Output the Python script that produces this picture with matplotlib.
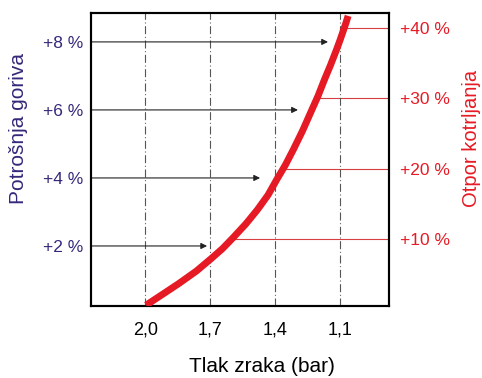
import matplotlib.pyplot as plt
import numpy as np

plt.rcParams['font.family'] = ['Liberation Sans', 'DejaVu Sans']

# tyre pressure (bar) vs extra fuel consumption (%)
pressure = [1.997, 1.915, 1.842, 1.764, 1.698, 1.643, 1.596, 1.536, 1.483, 1.433,
            1.394, 1.353, 1.317, 1.274, 1.235, 1.202, 1.173, 1.144, 1.117, 1.100,
            1.084, 1.073, 1.063]
fuel = [0.26, 0.603, 0.912, 1.265, 1.618, 1.926, 2.235, 2.647, 3.059, 3.500,
        3.941, 4.382, 4.824, 5.382, 5.941, 6.412, 6.882, 7.324, 7.765, 8.059,
        8.353, 8.559, 8.765]

x_ticks = [2.0, 1.7, 1.4, 1.1]
x_labels = ['2,0', '1,7', '1,4', '1,1']

fuel_levels = [2, 4, 6, 8]
fuel_labels = ['+2 %', '+4 %', '+6 %', '+8 %']
arrow_end = [1.715, 1.47, 1.295, 1.156]

rr_levels = [10, 20, 30, 40]
rr_labels = ['+10 %', '+20 %', '+30 %', '+40 %']

blue = '#35287a'
red = '#e61a24'

fig = plt.figure(figsize=(4.82, 3.78), dpi=100)
ax = fig.add_axes([90.5 / 482, 72 / 378, 298.5 / 482, 293 / 378])
ax2 = ax.twinx()

xlim = (2.254, 0.874)
ylim = (0.235, 8.85)
ylim2 = (0.5, 42.06)
ax.set_xlim(xlim)
ax.set_ylim(ylim)
ax2.set_ylim(ylim2)

# dash-dot vertical grid lines
for xt in x_ticks:
    ax.axvline(xt, color='#555555', lw=0.8, linestyle=(0, (7.2, 2.4, 0.9, 2.4)), zorder=1)

# black arrows from the left axis
for f, xe in zip(fuel_levels, arrow_end):
    ax.annotate('', xy=(xe, f), xytext=(xlim[0], f),
                arrowprops=dict(arrowstyle='-|>', color='#222222', lw=0.8,
                                mutation_scale=9, shrinkA=0, shrinkB=0),
                zorder=2)

# red lines from the curve to the right axis
rr = np.array(rr_levels, dtype=float)
f_eq = ylim[0] + (rr - ylim2[0]) / (ylim2[1] - ylim2[0]) * (ylim[1] - ylim[0])
x_start = np.interp(f_eq, fuel, pressure)
ax2.hlines(rr, x_start, xlim[1], color='#d8403f', lw=0.8)

# main curve
ax.plot(pressure, fuel, color=red, lw=5, solid_capstyle='butt',
        solid_joinstyle='round', zorder=3)

ax.set_zorder(ax2.get_zorder() + 1)
ax.patch.set_visible(False)

ax.set_xticks(x_ticks)
ax.set_xticklabels(x_labels, fontsize=13)
ax.tick_params(axis='x', length=0, pad=11)

ax.set_yticks(fuel_levels)
ax.set_yticklabels(fuel_labels, fontsize=12.5, color=blue)
ax.tick_params(axis='y', length=0, pad=5)

ax2.set_yticks(rr_levels)
ax2.set_yticklabels(rr_labels, fontsize=12.5, color=red)
ax2.tick_params(axis='y', length=0, pad=8)

for a in (ax, ax2):
    for s in a.spines.values():
        s.set_linewidth(1.5)
        s.set_color('black')

ax.set_xlabel('Tlak zraka (bar)', fontsize=15)
ax.xaxis.set_label_coords(0.576, -0.208)
ax.xaxis.label.set_va('center')

ax.set_ylabel('Potrošnja goriva', fontsize=15, color=blue)
ax.yaxis.set_label_coords(-0.24, 0.6075)
ax.yaxis.label.set_va('center')

ax2.set_ylabel('Otpor kotrljanja', fontsize=14.5, color=red, rotation=90)
ax2.yaxis.set_label_coords(1.275, 0.573)
ax2.yaxis.label.set_va('center')

fig.savefig('out.png', dpi=100)
